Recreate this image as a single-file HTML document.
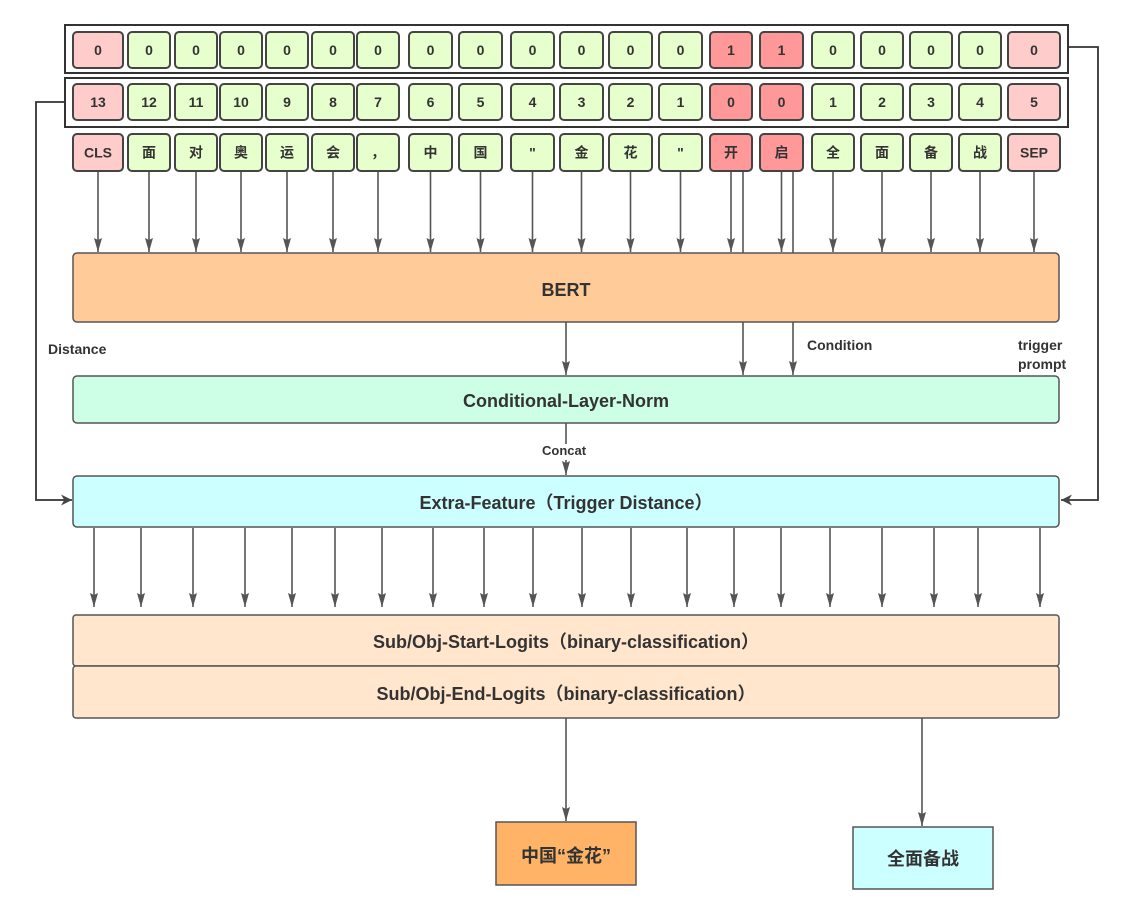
<!DOCTYPE html>
<html><head><meta charset="utf-8"><style>
html,body{margin:0;padding:0;background:#fff}
svg text{font-family:"Liberation Sans","Noto Sans CJK SC",sans-serif;font-weight:bold;fill:#333}
</style></head><body>
<svg width="1130" height="912" viewBox="0 0 1130 912" xmlns="http://www.w3.org/2000/svg">
<defs><marker id="a" viewBox="0 0 14 8" markerWidth="14" markerHeight="8" refX="14" refY="4" orient="auto" markerUnits="userSpaceOnUse"><path d="M0,0 L14,4 L0,8 L2,4 z" fill="#555"/></marker>
<marker id="ad" viewBox="0 0 10 10" markerWidth="11" markerHeight="11" refX="10" refY="5" orient="auto" markerUnits="userSpaceOnUse"><path d="M0,0 L10,5 L0,10 L3,5z" fill="#444"/></marker></defs>
<g stroke="#555" stroke-width="1.5" fill="none">
<rect x="65" y="25" width="1003" height="48" stroke="#333" stroke-width="2"/>
<rect x="65" y="78" width="1003" height="49" stroke="#333" stroke-width="2"/>
</g>
<g id="cells" stroke="#444" stroke-width="2"></g>
<g font-size="14" text-anchor="middle" id="txt"></g>
<g stroke="#555" stroke-width="1.6" fill="none" id="arr"></g>
<g stroke="#555" stroke-width="1.5">
<rect x="73" y="253" width="986" height="69" rx="4" fill="#ffcc99"/>
<rect x="73" y="376" width="986" height="47" rx="4" fill="#ccffe6"/>
<rect x="73" y="476" width="986" height="51" rx="4" fill="#ccffff"/>
<rect x="73" y="615" width="986" height="51" rx="3" fill="#ffe6cc"/>
<rect x="73" y="666" width="986" height="52" rx="3" fill="#ffe6cc"/>
<rect x="496" y="822" width="140" height="63" fill="#ffb366"/>
<rect x="853" y="827" width="140" height="62" fill="#ccffff"/>
</g>
<g stroke="#333" stroke-width="1.8" fill="none">
<path d="M65,102 H36 V500 H72" marker-end="url(#ad)"/>
<path d="M1068,47 H1098 V500 H1061" marker-end="url(#ad)"/>
</g>
<g font-size="18" text-anchor="middle">
<text x="566" y="296">BERT</text>
<text x="566" y="407">Conditional-Layer-Norm</text>
<text x="566" y="509">Extra-Feature（Trigger Distance）</text>
<text x="566" y="648">Sub/Obj-Start-Logits（binary-classification）</text>
<text x="566" y="700">Sub/Obj-End-Logits（binary-classification）</text>
<text x="566" y="862">中国“金花”</text>
<text x="923" y="865">全面备战</text>
</g>
<g font-size="14">
<text x="48" y="354">Distance</text>
<text x="807" y="350">Condition</text>
<text x="1018" y="350">trigger</text>
<text x="1018" y="369">prompt</text>
<text x="542" y="455" font-size="13">Concat</text>
</g>
<script>
var L=[73,128,175,220,266,312,357,409,459,511,560,609,659,710,760,812,861,910,959,1008];
var W=[50,42,42,42,42,42,42,43,43,43,43,43,43,42,43,42,42,42,42,52];
var r1=['0','0','0','0','0','0','0','0','0','0','0','0','0','1','1','0','0','0','0','0'];
var r2=['13','12','11','10','9','8','7','6','5','4','3','2','1','0','0','1','2','3','4','5'];
var r3=['CLS','面','对','奥','运','会','，','中','国','"','金','花','"','开','启','全','面','备','战','SEP'];
var ns='http://www.w3.org/2000/svg',c=document.getElementById('cells'),t=document.getElementById('txt'),a=document.getElementById('arr');
function el(p,n,at){var e=document.createElementNS(ns,n);for(var k in at)e.setAttribute(k,at[k]);p.appendChild(e);return e;}
for(var i=0;i<20;i++){
 var col=(i==0||i==19)?'#ffcccc':(i==13||i==14)?'#ff9999':'#e6ffcc';
 var ys=[[32,36],[84,36],[134,37]],rs=[r1,r2,r3];
 for(var j=0;j<3;j++){
  el(c,'rect',{x:L[i],y:ys[j][0],width:W[i],height:ys[j][1],rx:4,fill:col});
  var tx=el(t,'text',{x:L[i]+W[i]/2,y:ys[j][0]+ys[j][1]/2+5});tx.textContent=rs[j][i];
 }
 var cx=L[i]+W[i]/2;
 el(a,'line',{x1:cx,y1:172,x2:cx,y2:252,'marker-end':'url(#a)'});
}
el(a,'line',{x1:743,y1:172,x2:743,y2:375,'marker-end':'url(#a)'});
el(a,'line',{x1:793,y1:172,x2:793,y2:375,'marker-end':'url(#a)'});
el(a,'line',{x1:566,y1:322,x2:566,y2:375,'marker-end':'url(#a)'});
el(a,'line',{x1:566,y1:423,x2:566,y2:444});
el(a,'line',{x1:566,y1:460,x2:566,y2:475,'marker-end':'url(#a)'});
var B=[94,141,193,245,292,335,382,433,484,533,582,631,687,734,781,830,882,934,978,1040];
B.forEach(function(x){el(a,'line',{x1:x,y1:528,x2:x,y2:607,'marker-end':'url(#a)'});});
el(a,'line',{x1:566,y1:718,x2:566,y2:821,'marker-end':'url(#a)'});
el(a,'line',{x1:922,y1:718,x2:922,y2:826,'marker-end':'url(#a)'});
</script>
</svg>
</body></html>
